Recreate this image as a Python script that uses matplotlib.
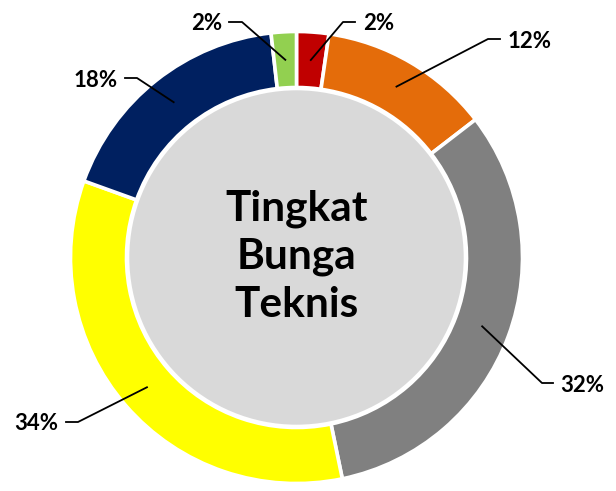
"""
Donut chart: Tingkat Bunga Teknis
"""
import numpy as np
import matplotlib.pyplot as plt

################################################################################
# Data
################################################################################
shares  = [2.3, 12.25, 32.2, 33.75, 17.7, 1.8]
labels  = ["%d%%" % round(v) for v in shares]
colors  = ["#C00000", "#E46C0A", "#808080", "#FFFF00", "#002060", "#92D050"]
center_title = "Tingkat\nBunga\nTeknis"

################################################################################
# Layout (pixel coordinates, y measured from top)
################################################################################
W, H        = 616, 491
CX, CY      = 296.5, 257.5
R_OUT       = 226
R_IN        = 170
# (elbow x, elbow y, end x, text x, text y, ha) per slice
label_pos   = [
    (343, 22, 355, 363, 23, "left"),
    (488, 39, 500, 508, 41, "left"),
    (542, 383, 553, 560, 385, "left"),
    (78, 422, 66, 58, 423, "right"),
    (137, 78, 125, 118, 80, "right"),
    (242, 22, 229, 222, 23, "right"),
]

plt.rcParams['font.family'] = ['Lato', 'DejaVu Sans']

fig = plt.figure(figsize = (W / 100, H / 100), dpi = 100)
ax  = fig.add_axes([0, 0, 1, 1])

def py(y):
    return H - y

wedges, _ = ax.pie(shares, colors = colors, startangle = 90, counterclock = False,
                   center = (CX, py(CY)), radius = R_OUT,
                   wedgeprops = dict(width = R_OUT - R_IN, edgecolor = "white", linewidth = 2.6))

# inner disc
ax.add_patch(plt.Circle((CX, py(CY)), R_IN - 1, facecolor = "#D9D9D9",
                        edgecolor = "white", linewidth = 2.6, zorder = 3))

ax.text(CX, py(CY) + 1, center_title, ha = "center", va = "center", fontsize = 30.5,
        fontweight = "bold", linespacing = 1.32, zorder = 4)

# labels with leader lines
r_mid = (R_OUT + R_IN) / 2
for w, lab, (ex, ey, endx, tx, ty, ha) in zip(wedges, labels, label_pos):
    ang = np.deg2rad((w.theta1 + w.theta2) / 2)
    ax0 = CX + r_mid * np.cos(ang)
    ay0 = py(CY) + r_mid * np.sin(ang)
    ax.plot([ax0, ex, endx], [ay0, py(ey), py(ey)], color = "black", lw = 1.3, zorder = 5)
    ax.text(tx, py(ty), lab, ha = ha, va = "center", fontsize = 16, fontweight = "bold")

ax.set_xlim(0, W)
ax.set_ylim(0, H)
ax.set_aspect("auto")
ax.axis("off")

fig.savefig("out.png", dpi = 100)
